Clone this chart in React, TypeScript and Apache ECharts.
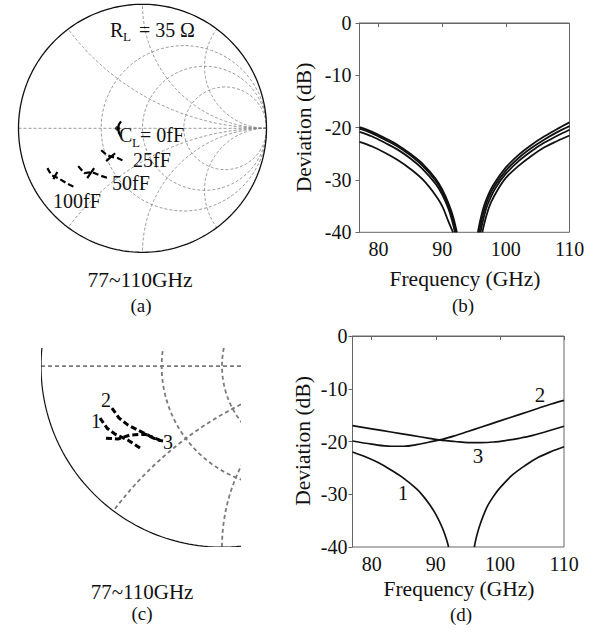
import React, { useEffect, useRef } from "react";
import * as echarts from "echarts";

const FONT = "Liberation Serif";

// ---------- axis ticks ----------
const FREQ_TICKS = [80, 90, 100, 110];
const FREQ_MIN = 77;
const FREQ_MAX = 110;
const DEV_MIN = -40;
const DEV_MAX = 0;

// ---------- Smith chart grid (normalised r and x values) ----------
const SMITH_R = [0.5, 1, 2];
const SMITH_X = [0.5, 1, 2, -0.5, -1, -2];

// ---------- (a) loci, reflection coefficient [Re, Im] ----------
const A_TRACE_0 = [[-0.173, 0.056], [-0.19, 0.032], [-0.197, 0], [-0.19, -0.036], [-0.173, -0.068]];
const A_DOT_0 = [[-0.201, 0]];
const A_TRACE_25 = [[-0.333, -0.177], [-0.285, -0.217], [-0.237, -0.233], [-0.197, -0.241], [-0.149, -0.265]];
const A_CROSS_25 = [[-0.293, -0.265], [-0.221, -0.201]];
const A_TRACE_50 = [[-0.518, -0.305], [-0.47, -0.361], [-0.406, -0.353], [-0.349, -0.378], [-0.277, -0.402]];
const A_CROSS_50 = [[-0.446, -0.402], [-0.39, -0.321]];
const A_TRACE_100 = [[-0.767, -0.321], [-0.735, -0.378], [-0.679, -0.402], [-0.614, -0.442], [-0.55, -0.474]];
const A_CROSS_100 = [[-0.719, -0.41], [-0.687, -0.353]];

// ---------- (b) deviation curves [GHz, dB] ----------
const B1_LOW = [[77, -19.9], [79, -20.8], [81, -22.0], [83, -23.3], [85, -25.0], [87, -27.0], [89, -29.8], [90, -31.8], [91, -34.5], [91.7, -37.0], [92.3, -40]];
const B2_LOW = [[77, -20.2], [79, -21.1], [81, -22.3], [83, -23.6], [85, -25.3], [87, -27.4], [89, -30.2], [90, -32.2], [91, -35.0], [91.7, -37.6], [92.2, -40]];
const B3_LOW = [[77, -20.8], [79, -21.7], [81, -22.9], [83, -24.2], [85, -25.9], [87, -28.0], [89, -30.8], [90, -32.8], [91, -35.6], [91.6, -38.0], [92.0, -40]];
const B4_LOW = [[77, -22.7], [79, -23.6], [81, -24.8], [83, -26.2], [85, -27.9], [87, -30.0], [89, -33.0], [90, -35.0], [91, -38.0], [91.7, -40]];
const B1_HIGH = [[95.6, -40], [96, -37.6], [96.5, -35.2], [97, -33.5], [98, -31.0], [100, -27.6], [102, -25.2], [104, -23.3], [106, -21.7], [108, -20.3], [110, -19.0]];
const B2_HIGH = [[95.8, -40], [96.2, -37.6], [96.7, -35.3], [97.2, -33.6], [98.2, -31.2], [100, -28.2], [102, -25.8], [104, -23.9], [106, -22.3], [108, -20.9], [110, -19.7]];
const B3_HIGH = [[96.0, -40], [96.4, -37.8], [96.9, -35.5], [97.4, -33.9], [98.4, -31.5], [100, -28.8], [102, -26.4], [104, -24.5], [106, -22.9], [108, -21.6], [110, -20.4]];
const B4_HIGH = [[96.3, -40], [96.7, -37.9], [97.2, -35.8], [97.7, -34.2], [98.7, -31.9], [100, -29.6], [102, -27.3], [104, -25.4], [106, -23.8], [108, -22.6], [110, -21.5]];

// ---------- (c) loci, reflection coefficient [Re, Im] ----------
const C_TRACE_1 = [[-0.674, -0.287], [-0.635, -0.343], [-0.591, -0.376], [-0.519, -0.409], [-0.453, -0.453]];
const C_TRACE_2 = [[-0.608, -0.232], [-0.569, -0.287], [-0.519, -0.326], [-0.464, -0.354], [-0.398, -0.387], [-0.343, -0.409]];
const C_TRACE_3 = [[-0.641, -0.398], [-0.575, -0.403], [-0.508, -0.381], [-0.425, -0.376], [-0.354, -0.409], [-0.326, -0.414]];

// ---------- (d) deviation curves [GHz, dB] ----------
const D1_LOW = [[77, -22.0], [79, -22.9], [81, -24.0], [83, -25.4], [85, -27.0], [87, -29.0], [88, -30.3], [89, -31.9], [90, -33.8], [91, -36.3], [91.6, -38.3], [92.0, -40]];
const D1_HIGH = [[96.0, -40], [96.4, -37.8], [97, -35.4], [98, -32.4], [99, -30.4], [100, -28.8], [102, -26.3], [104, -24.5], [106, -23.0], [108, -21.9], [110, -21.0]];
const D2 = [[77, -19.9], [80, -20.5], [83, -20.9], [85, -20.9], [87, -20.6], [89, -20.1], [91, -19.6], [93, -18.9], [95, -18.1], [97, -17.3], [100, -16.1], [103, -14.9], [106, -13.7], [108, -12.9], [110, -12.2]];
const D3 = [[77, -17.0], [80, -17.6], [83, -18.2], [86, -18.8], [89, -19.4], [91, -19.8], [93, -20.0], [95, -20.2], [97, -20.2], [99, -20.1], [101, -19.8], [103, -19.4], [105, -18.9], [107, -18.2], [110, -17.1]];

// grid items for the Smith chart custom series: [kind, value]
// kind 0 = real axis, 1 = constant-r circle, 2 = constant-x arc, 3 = unit circle
const SMITH_ITEMS = [
  [0, 0],
  ...SMITH_R.map((r) => [1, r]),
  ...SMITH_X.map((x) => [2, x]),
  [3, 0],
];

function smithRender(gridStyle: any, rimStyle: any) {
  return function (_params: any, api: any) {
    const kind = api.value(0);
    const v = api.value(1);
    const pts: number[][] = [];
    if (kind === 0) {
      pts.push([-1, 0], [1, 0]);
    } else if (kind === 1 || kind === 3) {
      const c = kind === 3 ? 0 : v / (1 + v);
      const rr = kind === 3 ? 1 : 1 / (1 + v);
      for (let i = 0; i <= 240; i++) {
        const t = (i / 240) * Math.PI * 2;
        pts.push([c + rr * Math.cos(t), rr * Math.sin(t)]);
      }
    } else {
      const s = Math.sign(v);
      const a = Math.abs(v);
      const cy = 1 / a;
      const rr = 1 / a;
      const px = (a * a - 1) / (a * a + 1);
      const py = (2 * a) / (a * a + 1);
      const start = -Math.PI / 2;
      let end = Math.atan2(py - cy, px - 1);
      if (end > start) end -= Math.PI * 2;
      for (let i = 0; i <= 160; i++) {
        const t = start + ((end - start) * i) / 160;
        pts.push([1 + rr * Math.cos(t), s * (cy + rr * Math.sin(t))]);
      }
    }
    const points = pts.map((p) => api.coord(p));
    return {
      type: "polyline",
      shape: { points },
      style: kind === 3 ? { ...rimStyle, fill: "none" } : { ...gridStyle, fill: "none" },
      silent: true,
    };
  };
}

function txt(text: string, x: number, y: number, size: number, opt: any = {}) {
  const align = opt.align || "center";
  return {
    type: "text",
    x,
    y,
    rotation: opt.rotation || 0,
    z: 100,
    silent: true,
    style: {
      text,
      fontSize: size,
      fontFamily: FONT,
      fill: "#111",
      align,
      textAlign: align,
      verticalAlign: "middle",
      textVerticalAlign: "middle",
    },
  };
}

function trace(data: number[][], axis: number, width: number, dashed: boolean) {
  return {
    type: "line",
    xAxisIndex: axis,
    yAxisIndex: axis,
    data,
    symbol: "none",
    silent: true,
    z: 10,
    lineStyle: { color: "#000", width, type: dashed ? [6, 3] : "solid", cap: "butt" },
  };
}

function curve(data: number[][], axis: number, width: number) {
  return {
    type: "line",
    xAxisIndex: axis,
    yAxisIndex: axis,
    data,
    symbol: "none",
    smooth: 0.35,
    silent: true,
    z: 10,
    lineStyle: { color: "#111", width },
  };
}

function freqAxis(grid: number) {
  return {
    type: "value",
    gridIndex: grid,
    min: FREQ_MIN,
    max: FREQ_MAX,
    axisLine: { show: true, lineStyle: { color: "#666", width: 1 } },
    axisTick: { show: true, inside: false, length: 4, customValues: FREQ_TICKS, lineStyle: { color: "#666" } },
    axisLabel: { show: true, customValues: FREQ_TICKS, margin: 7, fontSize: 20, fontFamily: FONT, color: "#111" },
    splitLine: { show: false },
  };
}

function devAxis(grid: number, margin: number) {
  return {
    type: "value",
    gridIndex: grid,
    min: DEV_MIN,
    max: DEV_MAX,
    interval: 10,
    axisLine: { show: true, lineStyle: { color: "#666", width: 1 } },
    axisTick: { show: true, inside: false, length: 4, lineStyle: { color: "#666" } },
    axisLabel: { show: true, margin, fontSize: 20, fontFamily: FONT, color: "#111" },
    splitLine: { show: false },
  };
}

function hiddenAxis(grid: number, min: number, max: number) {
  return { type: "value", gridIndex: grid, min, max, show: false, splitLine: { show: false } };
}

export default function App() {
  const ref = useRef<HTMLDivElement>(null);
  useEffect(() => {
    if (!ref.current) return;
    const chart = echarts.init(ref.current, undefined, { renderer: "svg" });

    const gridA = { left: 18.5, top: 4.3, width: 248, height: 248 };
    const gridB = { left: 359.5, top: 23, width: 210, height: 209.3 };
    const gridC = { left: 41, top: 348, width: 199.1, height: 199.1 };
    const gridD = { left: 352.5, top: 336, width: 211.5, height: 211 };

    const aGrid = { stroke: "#7c7c7c", lineWidth: 0.8, lineDash: [3, 2] };
    const aRim = { stroke: "#111", lineWidth: 1.3 };
    const cGrid = { stroke: "#7a7a7a", lineWidth: 1.8, lineDash: [4, 3] };
    const cRim = { stroke: "#111", lineWidth: 1.2 };

    const option: any = {
      animation: false,
      backgroundColor: "#fff",
      textStyle: { fontFamily: FONT },
      grid: [
        { ...gridA, show: false },
        { ...gridB, show: true, borderColor: "#666", borderWidth: 1 },
        { ...gridC, show: false },
        { ...gridD, show: true, borderColor: "#666", borderWidth: 1 },
      ],
      xAxis: [hiddenAxis(0, -1, 1), freqAxis(1), hiddenAxis(2, -1, 0.1), freqAxis(3)],
      yAxis: [hiddenAxis(0, -1, 1), devAxis(1, 8), hiddenAxis(2, -1, 0.1), devAxis(3, 5)],
      series: [
        {
          type: "custom",
          xAxisIndex: 0,
          yAxisIndex: 0,
          data: SMITH_ITEMS,
          renderItem: smithRender(aGrid, aRim),
          silent: true,
          z: 1,
        },
        {
          type: "custom",
          xAxisIndex: 2,
          yAxisIndex: 2,
          data: SMITH_ITEMS,
          renderItem: smithRender(cGrid, cRim),
          clip: true,
          silent: true,
          z: 1,
        },
        trace(A_TRACE_0, 0, 2.2, false),
        {
          type: "scatter",
          xAxisIndex: 0,
          yAxisIndex: 0,
          data: A_DOT_0,
          symbolSize: 5,
          itemStyle: { color: "#000" },
          silent: true,
          z: 11,
        },
        trace(A_TRACE_25, 0, 2.2, true),
        trace(A_CROSS_25, 0, 2.2, false),
        trace(A_TRACE_50, 0, 2.2, true),
        trace(A_CROSS_50, 0, 2.2, false),
        trace(A_TRACE_100, 0, 2.2, true),
        trace(A_CROSS_100, 0, 2.2, false),
        trace(C_TRACE_1, 2, 3, true),
        trace(C_TRACE_2, 2, 3, true),
        trace(C_TRACE_3, 2, 3, true),
        curve(B1_LOW, 1, 1.8),
        curve(B2_LOW, 1, 1.8),
        curve(B3_LOW, 1, 1.8),
        curve(B4_LOW, 1, 1.8),
        curve(B1_HIGH, 1, 1.8),
        curve(B2_HIGH, 1, 1.8),
        curve(B3_HIGH, 1, 1.8),
        curve(B4_HIGH, 1, 1.8),
        curve(D1_LOW, 3, 1.7),
        curve(D1_HIGH, 3, 1.7),
        curve(D2, 3, 1.7),
        curve(D3, 3, 1.7),
      ],
      graphic: [
        // (a) labels
        txt("R", 110, 30, 20, { align: "left" }),
        txt("L", 123, 36, 13, { align: "left" }),
        txt("= 35", 139, 30, 20, { align: "left" }),
        txt("Ω", 180, 30, 20, { align: "left" }),
        txt("C", 119, 135, 20, { align: "left" }),
        txt("L", 132, 142, 13, { align: "left" }),
        txt("= 0fF", 140, 135, 20, { align: "left" }),
        txt("25fF", 133, 160, 20, { align: "left" }),
        txt("50fF", 112, 183, 20, { align: "left" }),
        txt("100fF", 53, 201, 20, { align: "left" }),
        txt("77~110GHz", 140, 280, 21.5),
        txt("(a)", 141, 305, 19),
        // (b)
        txt("Deviation (dB)", 304, 127.5, 21.5, { rotation: Math.PI / 2 }),
        txt("Frequency (GHz)", 465, 279, 21.5),
        txt("(b)", 463, 305, 19),
        // (c)
        txt("2", 106, 400, 20),
        txt("1", 96, 421, 20),
        txt("3", 168, 442, 20),
        txt("77~110GHz", 142, 591.5, 21),
        txt("(c)", 142, 613.5, 19),
        // (d)
        txt("Deviation (dB)", 303, 441, 21.5, { rotation: Math.PI / 2 }),
        txt("Frequency (GHz)", 459, 589, 21.5),
        txt("(d)", 461, 614, 19),
        txt("2", 540, 395, 21),
        txt("3", 478, 456, 21),
        txt("1", 403, 493, 21),
      ],
    };
    chart.setOption(option);
    return () => chart.dispose();
  }, []);
  return (
    <div
      ref={ref}
      style={{ position: "fixed", left: 0, top: 0, width: 602, height: 632, background: "#fff" }}
    />
  );
}
